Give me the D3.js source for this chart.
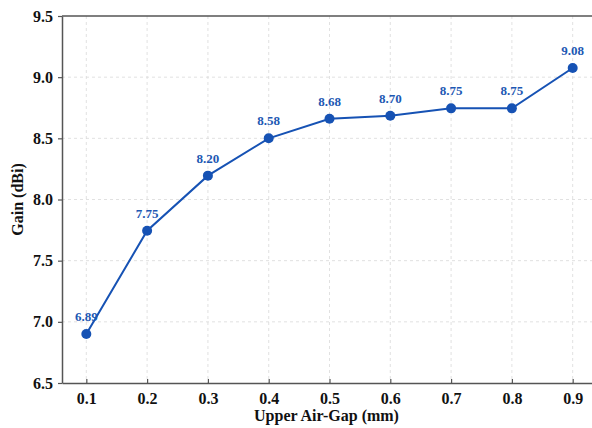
<!DOCTYPE html>
<html>
<head>
<meta charset="utf-8">
<script src="https://cdn.jsdelivr.net/npm/d3@7"></script>
<style>
  body { margin: 0; background: #fff; }
  svg { display: block; }
</style>
</head>
<body>
<div id="container"></div>
<script>
// data
const airGap = [0.1, 0.2, 0.3, 0.4, 0.5, 0.6, 0.7, 0.8, 0.9];
const gain = [6.90, 7.745, 8.195, 8.50, 8.66, 8.685, 8.745, 8.745, 9.075];
const gainLabels = ["6.89", "7.75", "8.20", "8.58", "8.68", "8.70", "8.75", "8.75", "9.08"];
const xTicks = [0.1, 0.2, 0.3, 0.4, 0.5, 0.6, 0.7, 0.8, 0.9];
const yTicks = [6.5, 7.0, 7.5, 8.0, 8.5, 9.0, 9.5];

const width = 592;
const height = 428;
const margin = {top: 16, left: 62, bottom: 45};
const plotRight = 597;
const plotBottom = height - margin.bottom;

const serif = "'Liberation Serif', 'Times New Roman', serif";
const blue = "#1652b4";

const svg = d3.select("#container")
  .append("svg")
  .attr("width", width)
  .attr("height", height);

const x = d3.scaleLinear().domain([0.06, 0.94]).range([margin.left, plotRight]);
const y = d3.scaleLinear().domain([6.5, 9.5]).range([plotBottom, margin.top]);

// grid
const grid = svg.append("g")
  .attr("stroke", "#d9d9d9")
  .attr("stroke-width", 0.8)
  .attr("stroke-dasharray", "3,3");

grid.selectAll("line.v")
  .data(xTicks)
  .join("line")
  .attr("class", "v")
  .attr("x1", d => x(d)).attr("x2", d => x(d))
  .attr("y1", margin.top).attr("y2", plotBottom);

grid.selectAll("line.h")
  .data(yTicks.slice(1, -1))
  .join("line")
  .attr("class", "h")
  .attr("x1", margin.left).attr("x2", plotRight)
  .attr("y1", d => y(d)).attr("y2", d => y(d));

// axes
const xAxis = svg.append("g")
  .attr("transform", `translate(0,${plotBottom})`)
  .call(d3.axisBottom(x).tickValues(xTicks).tickFormat(d3.format(".1f")).tickSizeInner(-4).tickSizeOuter(0).tickPadding(10));

const yAxis = svg.append("g")
  .attr("transform", `translate(${margin.left},0)`)
  .call(d3.axisLeft(y).tickValues(yTicks).tickFormat(d3.format(".1f")).tickSizeInner(4).tickSizeOuter(0).tickPadding(5));

[xAxis, yAxis].forEach(g => {
  g.select(".domain").attr("stroke", "#555").attr("stroke-width", 1.5);
  g.selectAll(".tick line").attr("stroke", "#555").attr("stroke-width", 1.2);
  g.selectAll(".tick text")
    .attr("fill", "#111")
    .attr("font-family", serif)
    .attr("font-weight", "bold")
    .attr("font-size", 16);
});

// top frame line
svg.append("line")
  .attr("x1", margin.left).attr("x2", plotRight)
  .attr("y1", margin.top).attr("y2", margin.top)
  .attr("stroke", "#555").attr("stroke-width", 1.5);

// axis titles
svg.append("text")
  .attr("x", (margin.left + plotRight) / 2 - 3)
  .attr("y", 421)
  .attr("text-anchor", "middle")
  .attr("font-family", serif)
  .attr("font-weight", "bold")
  .attr("font-size", 16)
  .attr("fill", "#111")
  .text("Upper Air-Gap (mm)");

svg.append("text")
  .attr("transform", `translate(23,${(margin.top + plotBottom) / 2}) rotate(-90)`)
  .attr("text-anchor", "middle")
  .attr("font-family", serif)
  .attr("font-weight", "bold")
  .attr("font-size", 16)
  .attr("fill", "#111")
  .text("Gain (dBi)");

// series
const points = airGap.map((d, i) => ({x: d, y: gain[i], label: gainLabels[i]}));

svg.append("path")
  .datum(points)
  .attr("fill", "none")
  .attr("stroke", blue)
  .attr("stroke-width", 2)
  .attr("d", d3.line().x(d => x(d.x)).y(d => y(d.y)));

svg.append("g")
  .selectAll("circle")
  .data(points)
  .join("circle")
  .attr("cx", d => x(d.x))
  .attr("cy", d => y(d.y))
  .attr("r", 5)
  .attr("fill", blue);

svg.append("g")
  .selectAll("text")
  .data(points)
  .join("text")
  .attr("x", d => x(d.x))
  .attr("y", d => y(d.y) - 13)
  .attr("text-anchor", "middle")
  .attr("font-family", serif)
  .attr("font-weight", "bold")
  .attr("font-size", 13)
  .attr("fill", "#1d58b3")
  .text(d => d.label);
</script>
</body>
</html>
